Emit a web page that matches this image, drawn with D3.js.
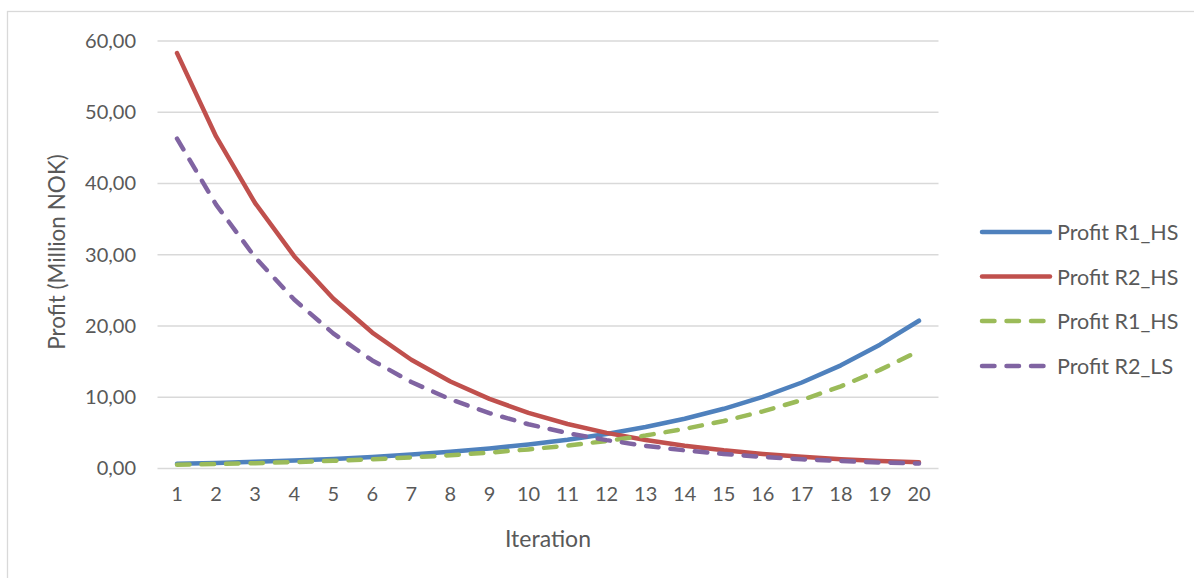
<!DOCTYPE html>
<html>
<head>
<meta charset="utf-8">
<script src="https://cdn.jsdelivr.net/npm/d3@7"></script>
<style>
  html, body { margin: 0; padding: 0; background: #ffffff; }
  svg { display: block; }
  text { font-family: Lato, "Open Sans", sans-serif; fill: #595959; }
</style>
</head>
<body>
<svg id="chart" width="1194" height="578"></svg>
<script>
// Iterations 1..20
const iterations = d3.range(1, 21);

// Profit per iteration, million NOK
const profitR1HS = [0.65, 0.78, 0.94, 1.13, 1.35, 1.62, 1.95, 2.34, 2.81, 3.37,
                    4.04, 4.85, 5.82, 6.98, 8.38, 10.06, 12.07, 14.48, 17.38, 20.74];
const profitR2HS = [58.30, 46.60, 37.25, 29.80, 23.85, 19.08, 15.26, 12.21, 9.77, 7.81,
                    6.25, 5.00, 4.00, 3.20, 2.56, 2.05, 1.64, 1.31, 1.05, 0.86];
const profitR1HSdash = [0.52, 0.62, 0.75, 0.90, 1.08, 1.29, 1.55, 1.86, 2.23, 2.68,
                        3.22, 3.86, 4.63, 5.56, 6.67, 8.01, 9.61, 11.53, 13.84, 16.50];
const profitR2LS = [46.30, 37.04, 29.63, 23.71, 18.96, 15.17, 12.14, 9.71, 7.77, 6.21,
                    4.97, 3.98, 3.18, 2.55, 2.04, 1.63, 1.30, 1.04, 0.84, 0.70];

const yTicks = [0, 10, 20, 30, 40, 50, 60];
const seriesNames = ["Profit R1_HS", "Profit R2_HS", "Profit R1_HS", "Profit R2_LS"];
const seriesColors = ["#4F81BD", "#C0504D", "#9BBB59", "#8064A2"];
const seriesDashed = [false, false, true, true];
const seriesValues = [profitR1HS, profitR2HS, profitR1HSdash, profitR2LS];

const svg = d3.select("#chart");

// outer chart frame
svg.append("rect")
  .attr("x", 7.5).attr("y", 11.5)
  .attr("width", 1300).attr("height", 700)
  .attr("fill", "none").attr("stroke", "#D9D9D9").attr("stroke-width", 1.3);

const plot = { left: 157.5, right: 938.5, top: 41, bottom: 468.5 };

const x = d3.scaleBand()
  .domain(iterations)
  .range([plot.left, plot.right]);

const y = d3.scaleLinear()
  .domain([0, 60])
  .range([plot.bottom, plot.top]);

const fmt = v => d3.format(".2f")(v).replace(".", ",");

// horizontal gridlines
svg.append("g")
  .selectAll("line")
  .data(yTicks)
  .join("line")
  .attr("x1", plot.left).attr("x2", plot.right)
  .attr("y1", d => y(d)).attr("y2", d => y(d))
  .attr("stroke", "#D9D9D9").attr("stroke-width", 1.3);

// y axis labels
const yAxis = d3.axisLeft(y).tickValues(yTicks).tickFormat(fmt).tickSize(0).tickPadding(0);
svg.append("g")
  .attr("transform", `translate(${136},0)`)
  .call(yAxis)
  .call(g => g.select(".domain").remove())
  .call(g => g.selectAll("text")
    .attr("font-size", 20)
    .style("font-family", "Lato, sans-serif")
    .attr("fill", "#595959"));

// x axis labels
const xAxis = d3.axisBottom(x).tickSize(0).tickPadding(0);
svg.append("g")
  .attr("transform", `translate(0,${487})`)
  .call(xAxis)
  .call(g => g.select(".domain").remove())
  .call(g => g.selectAll("text")
    .attr("font-size", 20)
    .style("font-family", "Lato, sans-serif")
    .attr("fill", "#595959"));

// axis titles
svg.append("text")
  .attr("x", 548).attr("y", 538)
  .attr("text-anchor", "middle").attr("dominant-baseline", "central")
  .attr("font-size", 23)
  .text("Iteration");

svg.append("text")
  .attr("transform", `translate(${56},${252}) rotate(-90)`)
  .attr("text-anchor", "middle").attr("dominant-baseline", "central")
  .attr("font-size", 22.5)
  .text("Profit (Million NOK)");

// series lines
const line = d3.line()
  .x((d, i) => x(iterations[i]) + x.bandwidth() / 2)
  .y(d => y(d));

const dash = "12.5,12";

svg.append("g")
  .selectAll("path")
  .data(seriesValues)
  .join("path")
  .attr("d", d => line(d))
  .attr("fill", "none")
  .attr("stroke", (d, i) => seriesColors[i])
  .attr("stroke-width", 4.5)
  .attr("stroke-linecap", "round")
  .attr("stroke-linejoin", "round")
  .attr("stroke-dasharray", (d, i) => seriesDashed[i] ? dash : null);

// legend
const legendRows = [232, 276.5, 321, 366];
const legend = svg.append("g")
  .selectAll("g")
  .data(seriesNames)
  .join("g")
  .attr("transform", (d, i) => `translate(0,${legendRows[i]})`);

legend.append("line")
  .attr("x1", 982).attr("x2", 1050)
  .attr("y1", 0).attr("y2", 0)
  .attr("stroke", (d, i) => seriesColors[i])
  .attr("stroke-width", 4.5)
  .attr("stroke-linecap", "round")
  .attr("stroke-dasharray", (d, i) => seriesDashed[i] ? dash : null);

legend.append("text")
  .attr("x", 1057).attr("y", 0)
  .attr("dominant-baseline", "central")
  .attr("font-size", 21.5)
  .text(d => d);
</script>
</body>
</html>
